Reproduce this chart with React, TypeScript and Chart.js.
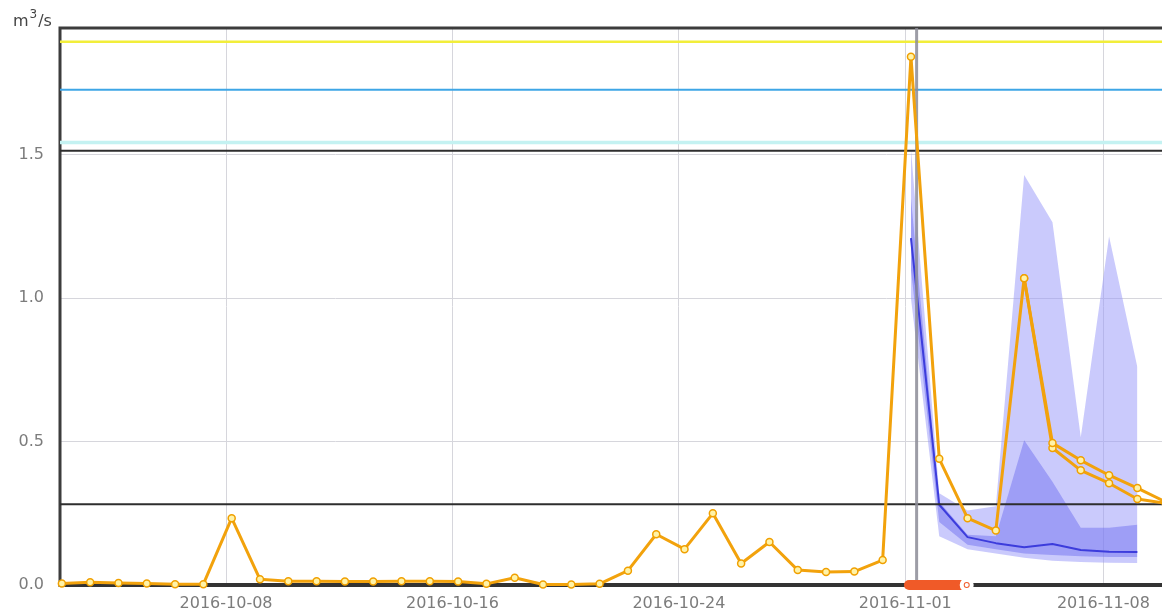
import React, { useEffect, useRef } from "react";
import { Chart, registerables } from "chart.js";

Chart.register(...registerables);

// ---- axis ranges (days since 2016-10-01 00:00) ----
const X_MIN = 1.134;
const X_MAX = 40.07;
const Y_MAX = 1.943;

const X_TICK_DAYS = [7, 15, 23, 31, 38];
const X_TICK_LABELS = ["2016-10-08", "2016-10-16", "2016-10-24", "2016-11-01", "2016-11-08"];
const Y_TICKS = [0, 0.5, 1.0, 1.5];

// ---- observed discharge (daily, starting day 1.2) ----
const OBS_START = 1.2;
const OBS_VALUES = [
  0.005, 0.01, 0.007, 0.005, 0.003, 0.003, 0.233, 0.02, 0.013, 0.013,
  0.012, 0.012, 0.013, 0.013, 0.012, 0.004, 0.025, 0.002, 0.002, 0.004,
  0.05, 0.177, 0.125, 0.25, 0.075, 0.15, 0.052, 0.045, 0.047, 0.087,
  1.843, 0.44, 0.233, 0.19, 1.07, 0.495, 0.435, 0.383, 0.338, 0.29,
];

// ---- second deterministic series ----
const SIM2_START = 35.2;
const SIM2_VALUES = [1.07, 0.478, 0.4, 0.355, 0.3, 0.285];

// ---- ensemble forecast ----
const FC_START = 31.2;
const FC_MEDIAN = [1.21, 0.28, 0.167, 0.146, 0.132, 0.143, 0.122, 0.116, 0.115];
const FC_OUTER_HI = [1.52, 0.32, 0.26, 0.275, 1.43, 1.265, 0.515, 1.216, 0.76];
const FC_OUTER_LO = [1.0, 0.17, 0.125, 0.11, 0.095, 0.085, 0.08, 0.078, 0.077];
const FC_INNER_HI = [1.35, 0.29, 0.175, 0.17, 0.505, 0.36, 0.2, 0.2, 0.21];
const FC_INNER_LO = [1.1, 0.22, 0.14, 0.125, 0.11, 0.105, 0.1, 0.098, 0.098];

// ---- thresholds ----
const THRESHOLD_VALUES = [1.895, 1.728, 1.544, 1.515, 0.282];
const THRESHOLD_COLORS = ["#f2ee3a", "#3ea6e6", "#c4f2f2", "#2e2e2e", "#2e2e2e"];
const THRESHOLD_WIDTHS = [2.5, 2, 3.5, 2, 2];

// ---- markers ----
const NOW_DAY = 31.4;
const ALERT_START = 31.13;
const ALERT_END = 33.17;

const series = (start: number, vals: number[]) => vals.map((y, i) => ({ x: start + i, y }));

const FONT = "'DejaVu Sans', Verdana, sans-serif";

const framePlugin = {
  id: "frame",
  beforeDatasetsDraw(chart: any) {
    const { ctx, chartArea: a } = chart;
    ctx.save();
    ctx.strokeStyle = "#3c3c3c";
    ctx.lineWidth = 3;
    ctx.beginPath();
    ctx.moveTo(a.left - 1.5, a.top);
    ctx.lineTo(a.right + 2, a.top);
    ctx.moveTo(a.left, a.top);
    ctx.lineTo(a.left, a.bottom);
    ctx.stroke();
    ctx.lineWidth = 4;
    ctx.strokeStyle = "#333";
    ctx.beginPath();
    ctx.moveTo(a.left - 1.5, a.bottom);
    ctx.lineTo(a.right + 2, a.bottom);
    ctx.stroke();
    ctx.restore();
  },
  afterDraw(chart: any) {
    const { ctx, chartArea: a } = chart;
    ctx.save();
    ctx.fillStyle = "#444";
    ctx.textBaseline = "alphabetic";
    ctx.font = "16px " + FONT;
    let x = 13;
    const base = a.top - 2;
    ctx.fillText("m", x, base);
    x += ctx.measureText("m").width + 1;
    ctx.font = "12px " + FONT;
    ctx.fillText("3", x, base - 8);
    x += ctx.measureText("3").width + 1;
    ctx.font = "16px " + FONT;
    ctx.fillText("/s", x, base);
    ctx.restore();
  },
};

export default function App() {
  const ref = useRef<HTMLCanvasElement | null>(null);

  useEffect(() => {
    if (!ref.current) return;
    const line = (extra: any) => ({
      type: "line",
      pointRadius: 0,
      tension: 0,
      fill: false,
      ...extra,
    });

    const datasets: any[] = [
      line({
        label: "Observed",
        data: series(OBS_START, OBS_VALUES),
        borderColor: "#f2a20c",
        borderWidth: 3,
        pointRadius: 3.5,
        pointBorderWidth: 1.5,
        pointBorderColor: "#f0a000",
        pointBackgroundColor: "#fff3a8",
        clip: { left: 5, right: 0, top: 5, bottom: 5 },
      }),
      line({
        label: "Sim2",
        data: series(SIM2_START, SIM2_VALUES),
        borderColor: "#f2a20c",
        borderWidth: 3,
        pointRadius: 3.5,
        pointBorderWidth: 1.5,
        pointBorderColor: "#f0a000",
        pointBackgroundColor: "#fff3a8",
      }),
      line({
        label: "Alert",
        data: [
          { x: ALERT_START, y: 0 },
          { x: ALERT_END, y: 0 },
        ],
        borderColor: "#f05a28",
        borderWidth: 10,
        borderCapStyle: "round",
        pointRadius: [0, 2],
        pointBackgroundColor: "#ffffff",
        pointBorderColor: "#ffffff",
        clip: false,
      }),
      line({
        label: "Now",
        data: [
          { x: NOW_DAY, y: 0 },
          { x: NOW_DAY, y: Y_MAX },
        ],
        borderColor: "rgba(140,140,150,0.85)",
        borderWidth: 3,
      }),
      ...THRESHOLD_VALUES.map((v, i) =>
        line({
          label: "T" + i,
          data: [
            { x: X_MIN, y: v },
            { x: X_MAX, y: v },
          ],
          borderColor: THRESHOLD_COLORS[i],
          borderWidth: THRESHOLD_WIDTHS[i],
        })
      ),
      line({
        label: "Median",
        data: series(FC_START, FC_MEDIAN),
        borderColor: "#3c3cdc",
        borderWidth: 2,
      }),
    ];
    const innerHiIdx = datasets.length;
    datasets.push(
      line({
        label: "InnerHi",
        data: series(FC_START, FC_INNER_HI),
        borderWidth: 0,
        borderColor: "rgba(0,0,0,0)",
        backgroundColor: "rgba(105,105,240,0.45)",
        fill: innerHiIdx + 1,
      }),
      line({
        label: "InnerLo",
        data: series(FC_START, FC_INNER_LO),
        borderWidth: 0,
        borderColor: "rgba(0,0,0,0)",
      })
    );
    const outerHiIdx = datasets.length;
    datasets.push(
      line({
        label: "OuterHi",
        data: series(FC_START, FC_OUTER_HI),
        borderWidth: 0,
        borderColor: "rgba(0,0,0,0)",
        backgroundColor: "rgba(150,150,250,0.5)",
        fill: outerHiIdx + 1,
      }),
      line({
        label: "OuterLo",
        data: series(FC_START, FC_OUTER_LO),
        borderWidth: 0,
        borderColor: "rgba(0,0,0,0)",
      })
    );

    const tickFont = { family: FONT, size: 16 };

    const chart = new Chart(ref.current, {
      type: "line",
      data: { datasets },
      plugins: [framePlugin],
      options: {
        animation: false,
        responsive: false,
        devicePixelRatio: 1,
        layout: { autoPadding: false, padding: { top: 28, right: 0, left: 0, bottom: 0 } },
        plugins: {
          legend: { display: false },
          tooltip: { enabled: false },
        },
        elements: { line: { borderJoinStyle: "round" } },
        scales: {
          x: {
            type: "linear",
            min: X_MIN,
            max: X_MAX,
            afterBuildTicks: (s: any) => {
              s.ticks = X_TICK_DAYS.map((v) => ({ value: v }));
            },
            afterFit: (s: any) => {
              s.height = 31;
              s.paddingLeft = 0;
              s.paddingRight = 0;
            },
            ticks: {
              autoSkip: false,
              maxRotation: 0,
              padding: 9,
              color: "#7c7c7c",
              font: tickFont,
              callback: (v: any) => {
                const i = X_TICK_DAYS.indexOf(Number(v));
                return i >= 0 ? X_TICK_LABELS[i] : "";
              },
            },
            grid: { color: "#d6d6dc", lineWidth: 1, drawTicks: false },
            border: { display: false },
          },
          y: {
            type: "linear",
            min: 0,
            max: Y_MAX,
            afterBuildTicks: (s: any) => {
              s.ticks = Y_TICKS.map((v) => ({ value: v }));
            },
            afterFit: (s: any) => {
              s.width = 60;
              s.paddingTop = 0;
              s.paddingBottom = 0;
            },
            ticks: {
              padding: 16,
              color: "#7c7c7c",
              font: tickFont,
              callback: (v: any) => Number(v).toFixed(1),
            },
            grid: { color: "#d6d6dc", lineWidth: 1, drawTicks: false },
            border: { display: false },
          },
        },
      } as any,
    });
    return () => chart.destroy();
  }, []);

  return (
    <div style={{ position: "absolute", left: 0, top: 0, width: 1162, height: 616, background: "#fff" }}>
      <canvas ref={ref} width={1162} height={616} style={{ display: "block" }} />
    </div>
  );
}
